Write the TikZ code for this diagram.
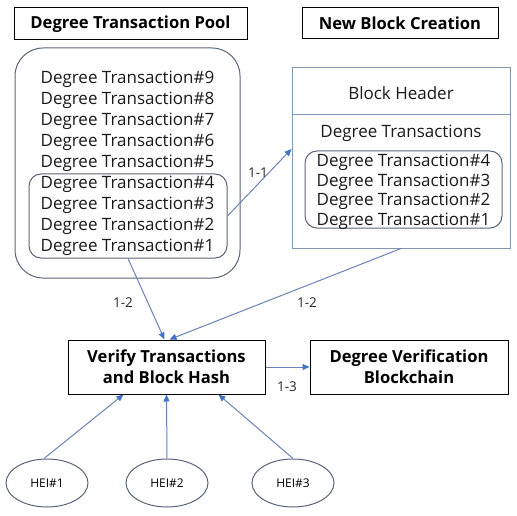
\documentclass[tikz,border=0pt]{standalone}
\usepackage{fontspec}
\setmainfont{Open Sans}
\usetikzlibrary{shapes.geometric,arrows.meta}
\definecolor{boxline}{HTML}{5A6478}
\definecolor{blockline}{HTML}{8497B0}
\definecolor{arrowline}{HTML}{6A82B8}
\definecolor{arrowhead}{HTML}{4472C4}
\begin{document}
\begin{tikzpicture}[yscale=-1,x=1pt,y=1pt,line width=1pt,
    title/.style={draw=black,font=\bfseries\fontsize{16.6}{21}\selectfont,inner sep=0pt},
    entry/.style={font=\fontsize{17}{19}\selectfont,inner sep=0pt,text=black!90},
    flow/.style={draw=arrowline,-{Triangle[length=7pt,width=6pt,color=arrowhead,fill=arrowhead]}},
    lbl/.style={font=\fontsize{13.5}{15}\selectfont,inner sep=0pt,text=black!85},
    hei/.style={ellipse,draw=boxline,minimum width=82pt,minimum height=48pt,inner sep=0pt,
      font=\fontsize{12}{14}\selectfont}]
  \useasboundingbox (0,0) rectangle (517,516);
  % titles
  \node[title,minimum width=233pt,minimum height=32pt] (pooltitle) at (130.5,24) {Degree Transaction Pool};
  \node[title,minimum width=196pt,minimum height=31pt] (blocktitle) at (400,23.5) {New Block Creation};
  % transaction pool
  \node[draw=boxline,rounded corners=28pt,minimum width=225pt,minimum height=230pt] (pool) at (127.5,163) {};
  \foreach \k in {1,...,9}
    \node[entry] (pooltx\k) at (127.5,{247-21*(\k-1)}) {Degree Transaction\#\k};
  \node[draw=boxline,rounded corners=12pt,minimum width=198pt,minimum height=84pt] (poolsel) at (128,216) {};
  % new block
  \node[draw=blockline,minimum width=218pt,minimum height=180pt] (block) at (401,158) {};
  \coordinate (split) at (401,115);
  \draw[blockline] (block.west |- split) -- (block.east |- split);
  \node[entry] (header) at (401,93) {Block Header};
  \node[entry] (txlist) at (401,133) {Degree Transactions};
  \node[draw=boxline,rounded corners=12pt,minimum width=197pt,minimum height=77pt] (blocksel) at (403.5,189.5) {};
  \foreach \k in {1,...,4}
    \node[entry] (blocktx\k) at (403.5,{221-19.5*(\k-1)}) {Degree Transaction\#\k};
  % verification
  \node[title,align=center,minimum width=197pt,minimum height=54pt] (verify) at (166.5,367) {Verify Transactions\\and Block Hash};
  \node[title,align=center,minimum width=198pt,minimum height=54pt] (chain) at (409,367) {Degree Verification\\Blockchain};
  \node[hei] (hei1) at (47,483) {HEI\#1};
  \node[hei] (hei2) at (167,483) {HEI\#2};
  \node[hei] (hei3) at (293,483) {HEI\#3};
  % connectors
  \draw[flow] (poolsel.east) -- ([yshift=-9pt]block.west);
  \draw[flow] (poolsel.south) -- ([xshift=-2pt]verify.north);
  \draw[flow] (block.south) -- ([xshift=3pt]verify.north);
  \draw[flow] (verify.east) -- (chain.west);
  \draw[flow] ([xshift=-3pt]hei1.north) -- ([xshift=-43pt]verify.south);
  \draw[flow] (hei2.north) -- (verify.south);
  \draw[flow] (hei3.north) -- ([xshift=52pt]verify.south);
  \node[lbl] (l11) at (258,173) {1-1};
  \node[lbl] (l12a) at (123,303) {1-2};
  \node[lbl] (l12b) at (307,303) {1-2};
  \node[lbl] (l13) at (287,387) {1-3};
\end{tikzpicture}
\end{document}
